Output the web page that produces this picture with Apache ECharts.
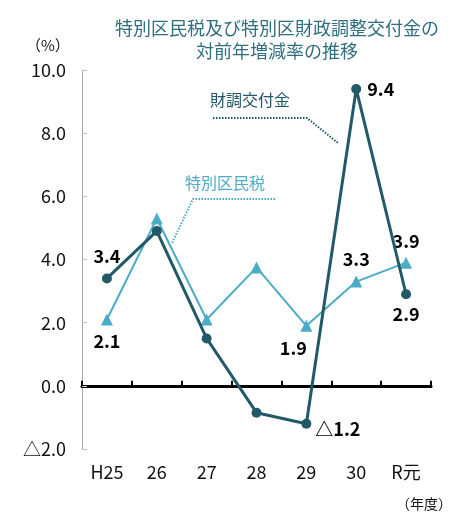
<!DOCTYPE html>
<html>
<head>
<meta charset="utf-8">
<script src="https://cdn.jsdelivr.net/npm/echarts@6/dist/echarts.min.js"></script>
<style>html,body{margin:0;padding:0;background:#fff;}#c{width:454px;height:513px;}</style>
</head>
<body>
<div id="c"></div>
<script>
const categories = ['H25', '26', '27', '28', '29', '30', 'R元'];
const zaichoValues = [3.4, 4.9, 1.5, -0.85, -1.2, 9.4, 2.9];
const kuminzeiValues = [2.1, 5.3, 2.1, 3.75, 1.9, 3.3, 3.9];
const yMin = -2, yMax = 10, yInterval = 2;
const titleLines = ['特別区民税及び特別区財政調整交付金の', '対前年増減率の推移'];
const zaichoName = '財調交付金';
const kuminzeiName = '特別区民税';

const FONT = '"Noto Sans CJK JP", "Noto Sans", sans-serif';
const DARK = '#215968';
const LIGHT = '#4bacc6';

function fmt(v) {
  return v < 0 ? '△' + Math.abs(v).toFixed(1) : v.toFixed(1);
}

// which points show a value label, and where
const zaichoLabelCfg = {
  0: {position: 'top', distance: 8},
  4: {position: 'right', distance: 4, offset: [0, 5]},
  5: {position: 'right', distance: 6},
  6: {position: 'bottom', distance: 6}
};
const kuminzeiLabelCfg = {
  0: {position: 'bottom', distance: 7},
  4: {position: 'bottom', distance: 7, offset: [-13, 0]},
  5: {position: 'top', distance: 7},
  6: {position: 'top', distance: 7}
};

function buildData(values, cfg) {
  return values.map((v, i) => {
    const c = cfg[i];
    if (!c) return {value: v, label: {show: false}};
    return {
      value: v,
      label: Object.assign({
        show: true,
        formatter: fmt(v),
        fontFamily: FONT,
        fontSize: 18,
        fontWeight: 'bold',
        color: '#000'
      }, c)
    };
  });
}

const chart = echarts.init(document.getElementById('c'));
chart.setOption({
  animation: false,
  backgroundColor: '#fff',
  title: {
    text: titleLines.join('\n'),
    left: 272,
    textAlign: 'center',
    top: 12,
    textStyle: {fontFamily: FONT, fontSize: 18, fontWeight: 'normal', color: '#2e6e7e', lineHeight: 23}
  },
  grid: {left: 82, right: 23, top: 70, bottom: 64, containLabel: false},
  xAxis: [
    {
      type: 'category',
      data: categories,
      position: 'bottom',
      boundaryGap: true,
      axisLine: {show: false, onZero: false},
      axisTick: {show: false},
      axisLabel: {margin: 14, fontFamily: FONT, fontSize: 18, color: '#111'}
    },
    {
      type: 'category',
      data: categories,
      position: 'bottom',
      boundaryGap: true,
      axisLine: {show: true, onZero: true, lineStyle: {color: '#000', width: 3}},
      axisTick: {show: true, inside: true, length: 5, lineStyle: {color: '#000', width: 2}},
      axisLabel: {show: false}
    }
  ],
  yAxis: {
    type: 'value',
    min: yMin,
    max: yMax,
    interval: yInterval,
    axisLine: {show: true, lineStyle: {color: '#a6a6a6', width: 1}},
    axisTick: {show: true, inside: true, length: 5, lineStyle: {color: '#bfbfbf', width: 1}},
    splitLine: {show: false},
    axisLabel: {margin: 16, fontFamily: FONT, fontSize: 18, color: '#111', formatter: v => fmt(v)}
  },
  series: [
    {
      name: kuminzeiName,
      type: 'line',
      xAxisIndex: 0,
      data: buildData(kuminzeiValues, kuminzeiLabelCfg),
      symbol: 'triangle',
      symbolSize: 12,
      lineStyle: {color: LIGHT, width: 2},
      itemStyle: {color: LIGHT},
      z: 2
    },
    {
      name: zaichoName,
      type: 'line',
      xAxisIndex: 0,
      data: buildData(zaichoValues, zaichoLabelCfg),
      symbol: 'circle',
      symbolSize: 10,
      lineStyle: {color: DARK, width: 3},
      itemStyle: {color: DARK},
      z: 3
    }
  ],
  graphic: [
    {type: 'text', left: 26, top: 38, style: {text: '（%）', font: '15px ' + FONT, fill: '#111'}},
    {type: 'text', right: 2, top: 497, style: {text: '（年度）', font: '14px ' + FONT, fill: '#111'}},
    {type: 'text', x: 250, y: 100, style: {text: zaichoName, font: '16px ' + FONT, fill: DARK, align: 'center', verticalAlign: 'middle'}},
    {type: 'polyline', shape: {points: [[213, 118], [307, 118], [338, 143]]}, style: {stroke: DARK, lineWidth: 2, lineDash: [1.5, 1.5], fill: null}},
    {type: 'text', x: 225, y: 183, style: {text: kuminzeiName, font: '16px ' + FONT, fill: LIGHT, align: 'center', verticalAlign: 'middle'}},
    {type: 'polyline', shape: {points: [[275, 199], [193, 199], [172, 243]]}, style: {stroke: LIGHT, lineWidth: 2, lineDash: [1.5, 1.5], fill: null}}
  ]
});
</script>
</body>
</html>
